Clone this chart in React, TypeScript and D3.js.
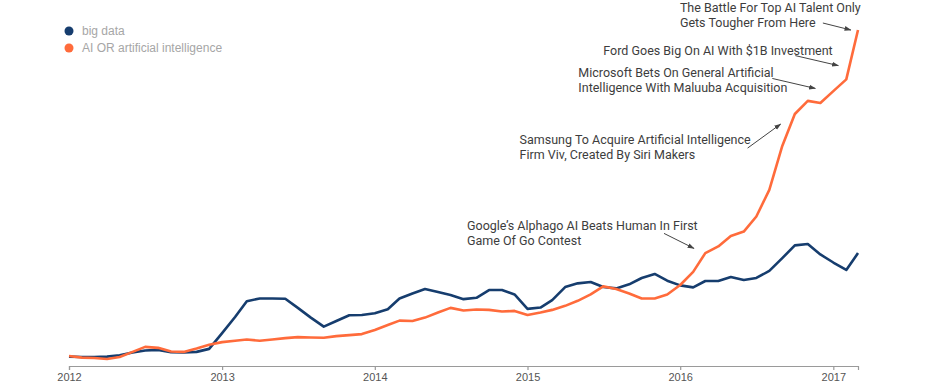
import { useEffect, useRef } from 'react';
import * as d3 from 'd3';

// monthly search interest, Jan 2012 .. Mar 2017
const startMonth = '2012-01-01';
const bigData = [
  2.8, 2.7, 2.7, 2.8, 3.2, 4.0, 4.6, 4.8, 4.1, 4.0, 4.2, 5.1,
  9.8, 14.6, 19.3, 20.1, 20.1, 20.0, 17.3, 14.4, 11.7, 13.4, 15.1, 15.2,
  15.7, 16.9, 20.1, 21.6, 22.9, 22.0, 21.1, 19.9, 20.3, 22.6, 22.6, 21.3,
  17.0, 17.4, 19.6, 23.5, 24.6, 25.0, 23.5, 23.1, 24.3, 26.2, 27.4, 25.4,
  24.0, 23.4, 25.3, 25.3, 26.5, 25.6, 26.2, 28.3, 32.1, 35.9, 36.3, 33.2,
  30.8, 28.6, 33.6,
];
const aiSearch = [
  3.0, 2.5, 2.4, 2.1, 2.7, 4.2, 5.7, 5.4, 4.3, 4.2, 5.2, 6.3,
  7.1, 7.5, 7.9, 7.5, 7.9, 8.3, 8.6, 8.5, 8.4, 8.9, 9.2, 9.5,
  10.7, 12.2, 13.5, 13.4, 14.4, 15.9, 17.3, 16.5, 16.8, 16.7, 16.2, 16.4,
  15.2, 15.9, 16.7, 17.9, 19.4, 21.3, 23.7, 22.9, 21.6, 20.1, 20.1, 21.3,
  24.1, 28.0, 33.6, 35.6, 38.7, 40.0, 44.5, 52.4, 65.5, 75.0, 78.9, 78.3,
  81.8, 85.3, 100,
];
const seriesNames = ['big data', 'AI OR artificial intelligence'];
const seriesColors = ['#163d6e', '#ff6b3b'];

const annotations = [
  { lines: ['The Battle For Top AI Talent Only', 'Gets Tougher From Here'], date: '2017-02-12', value: 100, tx: -171, ty: -18, ax: -28, ay: -7 },
  { lines: ['Ford Goes Big On AI With $1B Investment'], date: '2017-01-13', value: 89.4, tx: -235, ty: -11, ax: -43, ay: -10 },
  { lines: ['Microsoft Bets On General Artificial', 'Intelligence With Maluuba Acquisition'], date: '2016-11-19', value: 82.6, tx: -237, ty: -11, ax: -43, ay: -10 },
  { lines: ['Samsung To Acquire Artificial Intelligence', 'Firm Viv, Created By Siri Makers'], date: '2016-08-28', value: 72.0, tx: -261, ty: 20, ax: -33, ay: 24 },
  { lines: ['Google\u2019s Alphago AI Beats Human In First', 'Game Of Go Contest'], date: '2016-02-03', value: 35.0, tx: -227, ty: -18, ax: -30, ay: -15 },
];

export default function App() {
  const svgRef = useRef<SVGSVGElement>(null);
  const width = 945;
  const height = 389;

  useEffect(() => {
    document.body.style.margin = '0';
    if (!svgRef.current) return;
    const svg = d3.select(svgRef.current);
    svg.selectAll('*').remove();

    const start = new Date(startMonth + 'T00:00:00');
    const dates = bigData.map((_, i) => d3.timeMonth.offset(start, i));

    const x = d3
      .scaleTime()
      .domain([dates[0], dates[dates.length - 1]])
      .range([69, 858]);
    const y = d3.scaleLinear().domain([0, 100]).range([366, 30]);

    // arrow marker
    svg
      .append('defs')
      .append('marker')
      .attr('id', 'arrow')
      .attr('viewBox', '0 0 10 10')
      .attr('refX', 9)
      .attr('refY', 5)
      .attr('markerWidth', 7)
      .attr('markerHeight', 7)
      .attr('orient', 'auto')
      .append('path')
      .attr('d', 'M0,1.5L10,5L0,8.5Z')
      .attr('fill', '#444');

    // X axis
    const xAxis = svg
      .append('g')
      .attr('transform', `translate(0,${366})`)
      .call(
        d3
          .axisBottom(x)
          .ticks(d3.timeYear.every(1))
          .tickFormat((d) => d3.timeFormat('%Y')(d as Date))
          .tickSize(4)
      );
    xAxis.select('.domain').attr('stroke', '#9a9a9a').attr('stroke-width', 1.2);
    xAxis.selectAll('.tick line').attr('stroke', '#9a9a9a').attr('stroke-width', 1.2);
    xAxis
      .selectAll('.tick text')
      .attr('fill', '#555')
      .attr('font-size', 11)
      .attr('font-family', 'Liberation Sans, Arial, sans-serif');

    // Lines
    [bigData, aiSearch].forEach((vals, idx) => {
      const line = d3
        .line<number>()
        .x((_, i) => x(dates[i]))
        .y((d) => y(d));
      svg
        .append('path')
        .datum(vals)
        .attr('fill', 'none')
        .attr('stroke', seriesColors[idx])
        .attr('stroke-width', 2.6)
        .attr('stroke-linejoin', 'round')
        .attr('d', line);
    });

    // Legend
    const legend = svg.append('g');
    seriesNames.forEach((name, i) => {
      legend
        .append('circle')
        .attr('cx', 69)
        .attr('cy', 31 + i * 17)
        .attr('r', 4.5)
        .attr('fill', seriesColors[i]);
      legend
        .append('text')
        .attr('x', 82)
        .attr('y', 31 + i * 17)
        .attr('dy', '0.35em')
        .attr('font-size', 12)
        .attr('font-family', 'Liberation Sans, Arial, sans-serif')
        .attr('fill', '#a6a6a6')
        .text(name);
    });

    // Annotations
    annotations.forEach((a) => {
      const px = x(new Date(a.date + 'T00:00:00'));
      const py = y(a.value);
      svg
        .append('line')
        .attr('x1', px + a.ax)
        .attr('y1', py + a.ay)
        .attr('x2', px)
        .attr('y2', py)
        .attr('stroke', '#444')
        .attr('stroke-width', 1)
        .attr('marker-end', 'url(#arrow)');
      const t = svg
        .append('text')
        .attr('x', px + a.tx)
        .attr('y', py + a.ty)
        .attr('font-size', 12.5)
        .attr('font-family', 'Roboto, sans-serif')
        .attr('fill', '#3d3d3d');
      a.lines.forEach((l, i) => {
        t.append('tspan')
          .attr('x', px + a.tx)
          .attr('dy', i === 0 ? 0 : 15)
          .text(l);
      });
    });
  }, []);

  return <svg ref={svgRef} width={width} height={height} style={{ display: 'block' }} />;
}
